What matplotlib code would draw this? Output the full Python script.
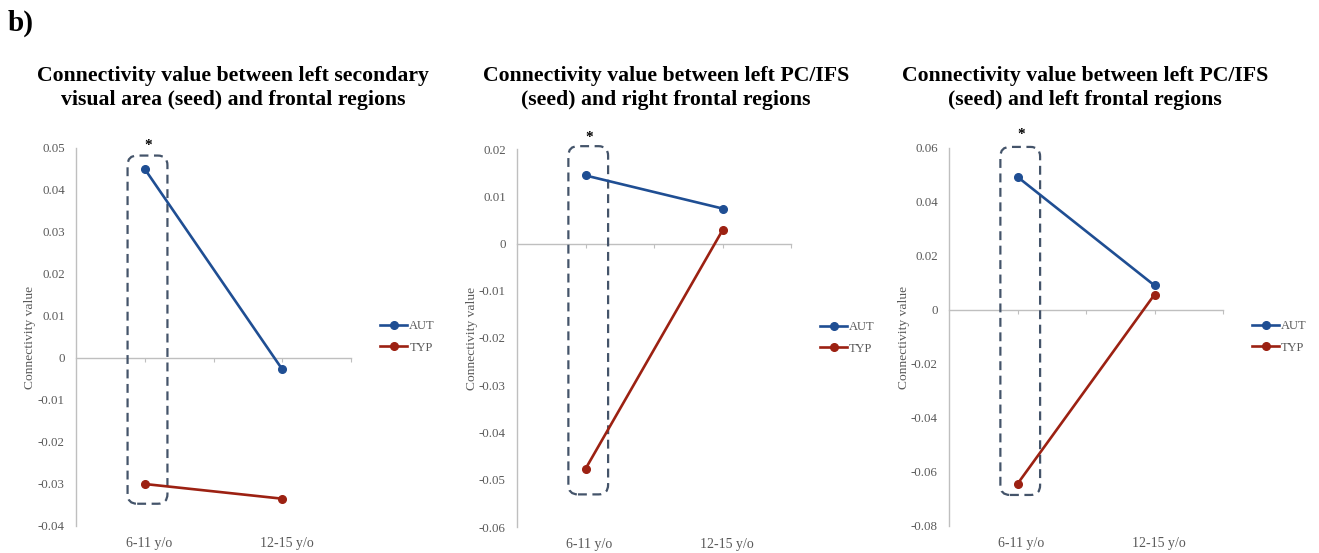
import matplotlib
matplotlib.use("Agg")
import matplotlib.pyplot as plt
from matplotlib.patches import FancyBboxPatch
import matplotlib.transforms as mtransforms
import numpy as np

plt.rcParams['font.family'] = ['Liberation Serif', 'DejaVu Serif']

# ---- data ----
categories = ["6-11 y/o", "12-15 y/o"]
series_names = ["AUT", "TYP"]

titles = [
    "Connectivity value between left secondary\nvisual area (seed) and frontal regions",
    "Connectivity value between left PC/IFS\n(seed) and right frontal regions",
    "Connectivity value between left PC/IFS\n(seed) and left frontal regions",
]

aut_values = [
    [0.0450, -0.0027],
    [0.0144, 0.0074],
    [0.0493, 0.0091],
]
typ_values = [
    [-0.0300, -0.0335],
    [-0.0477, 0.0028],
    [-0.0644, 0.0057],
]

y_limits = [(-0.04, 0.05), (-0.06, 0.02), (-0.08, 0.06)]
y_labels = [
    ["-0.04", "-0.03", "-0.02", "-0.01", "0", "0.01", "0.02", "0.03", "0.04", "0.05"],
    ["-0.06", "-0.05", "-0.04", "-0.03", "-0.02", "-0.01", "0", "0.01", "0.02"],
    ["-0.08", "-0.06", "-0.04", "-0.02", "0", "0.02", "0.04", "0.06"],
]
# significance box extents (y) around the first category
box_y = [(-0.0347, 0.0482), (-0.0531, 0.0206), (-0.0685, 0.0604)]
star_y = [0.0505, 0.0225, 0.0650]

colors = {"AUT": "#1F4E93", "TYP": "#9C2112"}
gray_text = "#595959"
axis_gray = "#BFBFBF"
box_color = "#44546A"

W, H = 1319, 553
fig = plt.figure(figsize=(W / 100, H / 100), dpi=100)

# axes pixel boxes (left, right, top, bottom)
ax_px = [(76, 351, 148, 526), (517, 791, 149, 527), (949, 1223, 148, 526)]
title_cx = [233, 666, 1085]

fig.text(8 / W, 1 - 23 / H, "b)", fontsize=21, fontweight="bold", va="center", ha="left")

for i in range(3):
    l, r, t, b = ax_px[i]
    ax = fig.add_axes([l / W, 1 - b / H, (r - l) / W, (b - t) / H])
    x = np.arange(len(categories))
    ax.plot(x, aut_values[i], color=colors["AUT"], lw=1.9, marker="o", ms=5.5, label="AUT", zorder=4)
    ax.plot(x, typ_values[i], color=colors["TYP"], lw=1.9, marker="o", ms=5.5, label="TYP", zorder=4)

    ax.set_xlim(-0.5, 1.5)
    lo, hi = y_limits[i]
    ax.set_ylim(lo, hi)
    ticks = np.linspace(lo, hi, len(y_labels[i]))
    ax.set_yticks(ticks)
    ax.set_yticklabels(y_labels[i])
    ax.tick_params(axis="y", length=0, pad=8, labelsize=9.3, labelcolor=gray_text)

    for s in ["top", "right"]:
        ax.spines[s].set_visible(False)
    ax.spines["left"].set_color(axis_gray)
    ax.spines["left"].set_linewidth(1.0)
    ax.spines["bottom"].set_position(("data", 0))
    ax.spines["bottom"].set_color(axis_gray)
    ax.spines["bottom"].set_linewidth(1.0)
    ax.set_xticks([0, 0.5, 1, 1.5])
    ax.set_xticklabels([])
    ax.tick_params(axis="x", length=3, color=axis_gray, direction="out")

    trans = mtransforms.blended_transform_factory(ax.transData, ax.transAxes)
    for xi, cat in zip(x, categories):
        ax.text(xi + 0.03, -0.045, cat, transform=trans, ha="center", va="center",
                fontsize=10, color=gray_text)

    ax.set_ylabel("Connectivity value", fontsize=9.7, color=gray_text, labelpad=1)

    leg = ax.legend(loc="center left", bbox_to_anchor=(1.105, 0.5), frameon=False,
                    fontsize=9, handlelength=2.2, handletextpad=0.15, labelspacing=0.75,
                    borderaxespad=0, borderpad=0)
    for txt in leg.get_texts():
        txt.set_color(gray_text)

    # dashed rounded box around first category
    fig.canvas.draw()
    p0 = ax.transData.transform((0, 0))
    p1 = ax.transData.transform((1, 1))
    aspect = (p1[0] - p0[0]) / (p1[1] - p0[1])
    y0, y1 = box_y[i]
    box = FancyBboxPatch((-0.125, y0), 0.29, y1 - y0,
                         boxstyle="round,pad=0,rounding_size=0.07",
                         mutation_aspect=aspect,
                         fill=False, edgecolor=box_color, lw=1.6,
                         linestyle=(0, (4, 2.5)), zorder=3, clip_on=False)
    ax.add_patch(box)
    ax.text(0.025, star_y[i], "*", ha="center", va="center", fontsize=11,
            fontweight="bold", color="black", clip_on=False)

    fig.text(title_cx[i] / W, 1 - 88 / H, titles[i], ha="center", va="center",
             fontsize=15.7, fontweight="bold", linespacing=1.3)

fig.savefig("out.png", dpi=100)
